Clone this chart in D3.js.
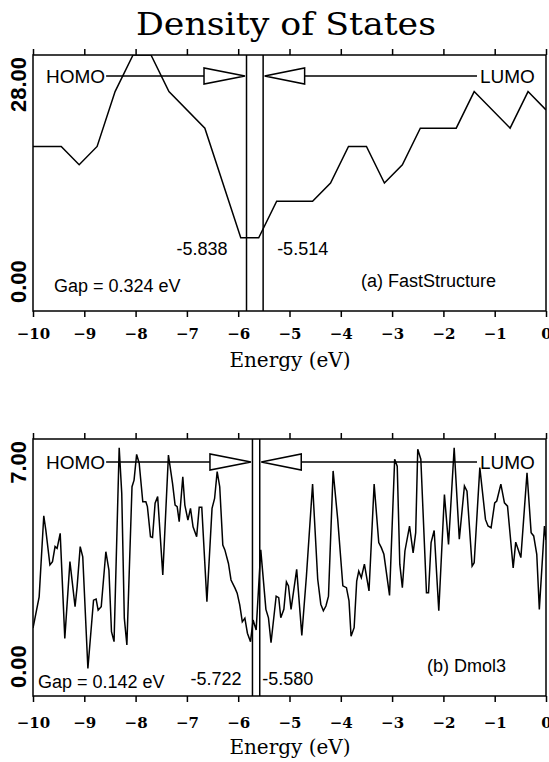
<!DOCTYPE html>
<html>
<head>
<meta charset="utf-8">
<script src="https://cdn.jsdelivr.net/npm/d3@7"></script>
<style>
  body { margin: 0; background: #fff; }
  svg  { display: block; }
</style>
</head>
<body>
<div id="chart"></div>
<script>
// energy axis ticks (eV)
var energyTicks = [-10, -9, -8, -7, -6, -5, -4, -3, -2, -1, 0];

// (a) FastStructure
var energyA = [-10, -9.45, -9.1, -8.75, -8.4, -8.05, -7.7, -7.35, -6.65, -5.95, -5.6, -5.25,
               -4.55, -4.2, -3.85, -3.5, -3.15, -2.8, -2.45, -1.75, -1.4, -0.7, -0.35, 0];
var dosA    = [18, 18, 16, 18, 24, 28, 28, 24, 20, 8, 8, 12,
               12, 14, 18, 18, 14, 16, 20, 20, 24, 20, 24, 22];

// (b) Dmol3
var energyB = [-10.00,-9.88,-9.79,-9.75,-9.67,-9.62,-9.57,-9.53,-9.47,-9.38,
               -9.28,-9.18,-9.14,-9.08,-9.03,-8.93,-8.82,-8.77,-8.73,-8.67,
               -8.58,-8.52,-8.47,-8.42,-8.32,-8.27,-8.22,-8.17,-8.07,-8.03,
               -7.98,-7.93,-7.86,-7.80,-7.77,-7.71,-7.67,-7.62,-7.57,-7.47,
               -7.36,-7.28,-7.23,-7.19,-7.15,-7.08,-7.04,-6.98,-6.93,-6.88,
               -6.81,-6.76,-6.71,-6.61,-6.51,-6.46,-6.41,-6.36,-6.30,-6.26,
               -6.19,-6.14,-6.06,-6.02,-5.97,-5.92,-5.87,-5.82,-5.76,-5.71,
               -5.65,-5.56,-5.46,-5.41,-5.36,-5.26,-5.21,-5.17,-5.11,-5.06,
               -5.02,-4.97,-4.86,-4.76,-4.67,-4.55,-4.45,-4.39,-4.34,-4.29,
               -4.24,-4.15,-4.06,-3.96,-3.89,-3.84,-3.80,-3.74,-3.69,-3.65,
               -3.60,-3.54,-3.45,-3.35,-3.26,-3.21,-3.16,-3.05,-2.95,-2.90,
               -2.85,-2.80,-2.75,-2.66,-2.59,-2.54,-2.50,-2.44,-2.33,-2.29,
               -2.24,-2.18,-2.09,-1.98,-1.90,-1.79,-1.69,-1.59,-1.54,-1.44,
               -1.40,-1.29,-1.18,-1.13,-1.07,-1.00,-0.96,-0.88,-0.81,-0.75,
               -0.64,-0.59,-0.49,-0.37,-0.29,-0.24,-0.18,-0.13,-0.03,0.00];
var dosB    = [1.85,2.70,4.91,4.52,3.57,3.66,4.07,4.02,4.43,1.57,
               3.66,2.43,2.98,4.07,3.79,0.75,2.61,2.64,2.34,2.43,
               3.93,3.43,1.75,1.48,6.76,5.52,2.12,1.39,5.70,5.88,
               6.58,6.34,5.29,5.29,5.16,4.34,4.32,5.25,5.43,3.30,
               6.56,5.79,5.20,5.16,4.75,5.97,5.20,4.79,5.11,4.61,
               4.34,5.14,5.14,2.57,5.11,5.38,6.11,5.70,4.11,3.98,
               3.61,3.16,2.93,2.80,2.48,2.02,2.12,1.71,1.48,2.07,
               1.80,3.98,2.36,2.13,1.45,2.72,2.68,2.13,2.36,3.11,
               3.00,2.36,3.45,1.65,3.27,5.77,3.18,2.50,2.32,2.45,
               2.72,6.13,4.81,3.00,2.95,2.59,1.63,1.86,3.13,3.40,
               3.22,3.59,2.86,5.77,4.18,4.04,3.86,2.74,6.45,6.26,
               3.59,2.95,3.95,4.63,3.90,4.45,6.72,6.45,2.81,2.81,
               4.18,4.51,2.32,5.49,4.13,6.76,4.27,5.72,5.58,3.54,
               3.63,6.22,4.81,4.63,4.58,5.26,5.31,5.77,5.26,5.17,
               3.49,4.19,3.77,6.08,4.45,4.36,3.86,2.36,4.63,4.25];

var homoA = -5.838, lumoA = -5.514, gapA = 0.324;
var homoB = -5.722, lumoB = -5.580, gapB = 0.142;

var W = 549, H = 762;
var SANS  = "'Liberation Sans', Arial, Helvetica, sans-serif";
var SERIF = "'DejaVu Serif', serif";

var svg = d3.select("#chart").append("svg")
  .attr("width", W).attr("height", H);

svg.append("text")
  .attr("x", 286).attr("y", 35)
  .attr("text-anchor", "middle")
  .attr("font-family", SERIF).attr("font-size", 32)
  .attr("textLength", 300).attr("lengthAdjust", "spacingAndGlyphs")
  .text("Density of States");

function drawPanel(p)
{
  var x = d3.scaleLinear().domain([-10, 0]).range([33, 546]);
  var y = d3.scaleLinear().domain([0, p.yMax]).range([p.bottom, p.top]);
  var g = svg.append("g");

  g.append("clipPath").attr("id", p.id + "-clip")
    .append("rect")
    .attr("x", x(-10)).attr("y", y(p.yMax))
    .attr("width", x(0) - x(-10)).attr("height", y(0) - y(p.yMax));

  // dos curve
  var line = d3.line().x(function (d) { return x(d[0]); }).y(function (d) { return y(d[1]); });
  g.append("path")
    .datum(d3.zip(p.energy, p.dos))
    .attr("clip-path", "url(#" + p.id + "-clip)")
    .attr("d", line)
    .attr("fill", "none").attr("stroke", "#000").attr("stroke-width", 1.5)
    .attr("stroke-linejoin", "miter");

  // homo / lumo levels
  [p.homo, p.lumo].forEach(function (e)
  {
    g.append("line")
      .attr("x1", x(e)).attr("x2", x(e))
      .attr("y1", y(0)).attr("y2", y(p.yMax))
      .attr("stroke", "#000").attr("stroke-width", 1.5);
  });

  // frame
  g.append("rect")
    .attr("x", x(-10)).attr("y", y(p.yMax))
    .attr("width", x(0) - x(-10)).attr("height", y(0) - y(p.yMax))
    .attr("fill", "none").attr("stroke", "#000").attr("stroke-width", 1.5);

  // ticks
  var top = g.append("g").attr("transform", "translate(0," + y(p.yMax) + ")")
    .call(d3.axisTop(x).tickValues(energyTicks).tickSize(6).tickFormat(""));
  var bot = g.append("g").attr("transform", "translate(0," + y(0) + ")")
    .call(d3.axisBottom(x).tickValues(energyTicks).tickSize(6)
      .tickFormat(function (d) { return d < 0 ? "\u2212" + Math.abs(d) : d; }));
  [top, bot].forEach(function (a)
  {
    a.select(".domain").remove();
    a.selectAll("line").attr("stroke-width", 1.5);
  });
  bot.selectAll("text")
    .attr("y", p.tickLabelDy).attr("dy", null)
    .attr("font-family", SERIF).attr("font-weight", "bold").attr("font-size", 15)
    .attr("fill", "#000");

  g.append("text")
    .attr("x", 290).attr("y", y(0) + p.titleDy)
    .attr("text-anchor", "middle")
    .attr("font-family", SERIF).attr("font-size", 20)
    .text("Energy (eV)");

  // y end labels
  g.append("text")
    .attr("transform", "translate(26," + (y(p.yMax) + 2) + ") rotate(-90)")
    .attr("text-anchor", "end")
    .attr("font-family", SANS).attr("font-weight", "bold").attr("font-size", 22)
    .text(p.yMax.toFixed(2));
  g.append("text")
    .attr("transform", "translate(26," + (y(0) - 8) + ") rotate(-90)")
    .attr("text-anchor", "start")
    .attr("font-family", SANS).attr("font-weight", "bold").attr("font-size", 22)
    .text((0).toFixed(2));

  // arrows
  var ay = y(p.yMax) + p.arrowDy;
  var homoTxt = g.append("text")
    .attr("x", 46).attr("y", ay + 7)
    .attr("font-family", SANS).attr("font-size", 19)
    .text("HOMO");
  var hEnd = 46 + homoTxt.node().getComputedTextLength() + 1;
  var hTip = x(p.homo) - 1.5, hBase = hTip - 41;
  g.append("line").attr("x1", hEnd).attr("x2", hBase).attr("y1", ay).attr("y2", ay)
    .attr("stroke", "#000").attr("stroke-width", 1.5);
  g.append("path")
    .attr("d", d3.line()([[hBase, ay - 8], [hBase, ay + 8], [hTip, ay]]) + "Z")
    .attr("fill", "#fff").attr("stroke", "#000").attr("stroke-width", 1.5);

  var lTip = x(p.lumo) + 1.5, lBase = lTip + 40;
  g.append("line").attr("x1", lBase).attr("x2", 477).attr("y1", ay).attr("y2", ay)
    .attr("stroke", "#000").attr("stroke-width", 1.5);
  g.append("path")
    .attr("d", d3.line()([[lBase, ay - 8], [lBase, ay + 8], [lTip, ay]]) + "Z")
    .attr("fill", "#fff").attr("stroke", "#000").attr("stroke-width", 1.5);
  g.append("text")
    .attr("x", 480).attr("y", ay + 7)
    .attr("font-family", SANS).attr("font-size", 19)
    .text("LUMO");

  // level values
  g.append("text")
    .attr("x", x(p.homo) + p.homoLabelDx).attr("y", p.levelLabelY)
    .attr("text-anchor", "end")
    .attr("font-family", SANS).attr("font-size", 18)
    .text(p.homo.toFixed(3));
  g.append("text")
    .attr("x", x(p.lumo) + p.lumoLabelDx).attr("y", p.levelLabelY)
    .attr("font-family", SANS).attr("font-size", 18)
    .text(p.lumo.toFixed(3));

  g.append("text")
    .attr("x", p.gapX).attr("y", p.gapY)
    .attr("font-family", SANS).attr("font-size", 18)
    .text("Gap = " + p.gap.toFixed(3) + " eV");
  g.append("text")
    .attr("x", p.nameX).attr("y", p.nameY)
    .attr("font-family", SANS).attr("font-size", 18)
    .text(p.name);
}

drawPanel({
  id: "a", energy: energyA, dos: dosA, yMax: 28, top: 55, bottom: 311,
  homo: homoA, lumo: lumoA, gap: gapA, name: "(a) FastStructure",
  arrowDy: 21, tickLabelDy: 28, titleDy: 56,
  homoLabelDx: -19, lumoLabelDx: 14, levelLabelY: 255,
  gapX: 54, gapY: 292, nameX: 361, nameY: 287
});

drawPanel({
  id: "b", energy: energyB, dos: dosB, yMax: 7, top: 439, bottom: 696,
  homo: homoB, lumo: lumoB, gap: gapB, name: "(b) Dmol3",
  arrowDy: 23, tickLabelDy: 32, titleDy: 58,
  homoLabelDx: -11, lumoLabelDx: 2.5, levelLabelY: 685,
  gapX: 38, gapY: 688, nameX: 427, nameY: 672
});
</script>
</body>
</html>
